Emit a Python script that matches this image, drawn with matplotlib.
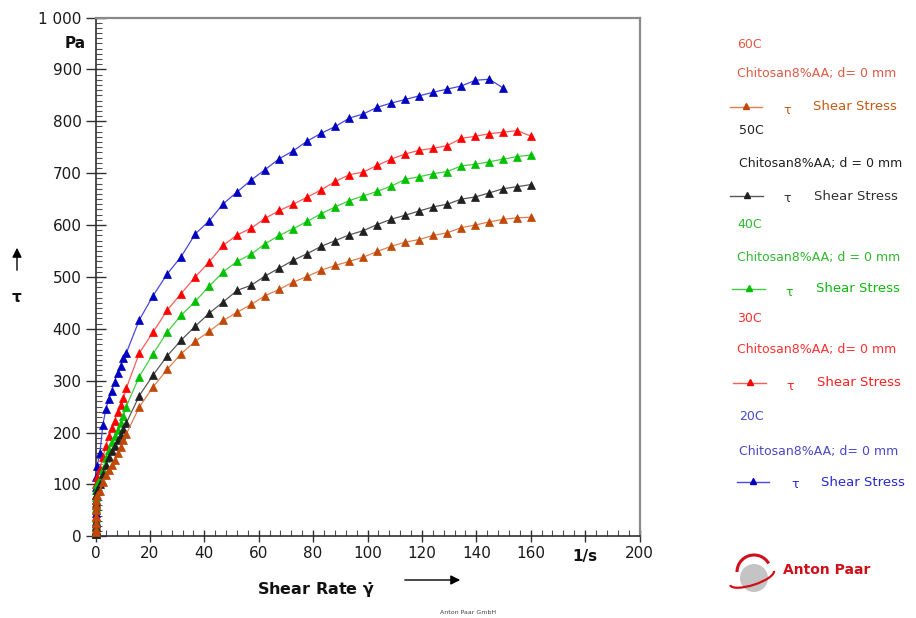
import numpy as np
import matplotlib.pyplot as plt
from matplotlib.patches import Circle, Arc
from matplotlib.ticker import MultipleLocator

plt.rcParams['font.family'] = ['DejaVu Sans']
plt.rcParams['mathtext.default'] = 'bf'

# shear rate steps (1/s): log start, fine linear part, coarse linear part
shear_rate = [0.01, 0.0178, 0.0316, 0.0562, 0.1, 0.178, 0.316, 0.562,
              1.6, 2.7, 3.8, 4.9, 5.9, 7.0, 8.1, 9.2, 10.2, 11.3,
              16.1, 21.2, 26.4, 31.5, 36.7, 41.8, 47.0, 52.1, 57.3, 62.4,
              67.6, 72.7, 77.9, 83.0, 88.2, 93.3, 98.4, 103.6, 108.7, 113.9,
              119.0, 124.2, 129.3, 134.5, 139.6, 144.8, 149.9, 155.1, 160.2]

# shear stress (Pa) per temperature
tau_20 = [5, 12, 25, 45, 70, 95, 115, 135,
          160, 215, 245, 265, 280, 298, 315, 328, 343, 353,
          417, 464, 506, 539, 583, 608, 641, 664, 687, 707,
          728, 743, 762, 777, 790, 806, 814, 827, 835, 842,
          849, 856, 862, 868, 879, 881, 864]
tau_30 = [5, 12, 22, 40, 60, 80, 100, 115,
          130, 152, 174, 194, 208, 222, 239, 253, 266, 285,
          353, 394, 436, 468, 500, 529, 561, 581, 594, 613,
          628, 640, 654, 668, 684, 697, 702, 715, 727, 737,
          744, 748, 753, 767, 771, 776, 779, 782, 771]
tau_40 = [5, 10, 20, 35, 55, 75, 90, 100,
          110, 130, 150, 167, 181, 193, 205, 218, 231, 250,
          308, 352, 394, 426, 453, 482, 510, 530, 544, 564,
          580, 593, 607, 622, 635, 647, 656, 665, 675, 688,
          693, 699, 703, 714, 717, 722, 727, 732, 735]
tau_50 = [5, 10, 18, 30, 50, 65, 80, 90,
          100, 120, 138, 152, 164, 175, 186, 196, 206, 218,
          271, 311, 348, 378, 405, 430, 452, 474, 484, 502,
          517, 532, 545, 559, 570, 581, 589, 601, 611, 619,
          627, 635, 640, 650, 654, 662, 670, 674, 678]
tau_60 = [8, 15, 25, 38, 50, 60, 70, 80,
          88, 105, 118, 128, 138, 148, 160, 173, 186, 197,
          249, 288, 322, 352, 376, 395, 416, 432, 447, 464,
          476, 490, 501, 513, 522, 530, 538, 549, 559, 567,
          572, 580, 585, 595, 600, 606, 611, 614, 615]

temps = ['20C', '30C', '40C', '50C', '60C']
samples = ['Chitosan8%AA; d= 0 mm', 'Chitosan8%AA; d= 0 mm',
           'Chitosan8%AA; d = 0 mm', 'Chitosan8%AA; d = 0 mm',
           'Chitosan8%AA; d= 0 mm']
series = [tau_20, tau_30, tau_40, tau_50, tau_60]
marker_colors = ['#0000C0', '#FF0000', '#00C000', '#202020', '#C04808']
line_colors = ['#4848E0', '#FF5A5A', '#40D040', '#585858', '#E08050']
title_colors = ['#4848C8', '#FF3030', '#30B830', '#202020', '#E05A45']
stress_colors = ['#2828D0', '#FF2020', '#10B810', '#303030', '#C85A14']

fig = plt.figure(figsize=(9.16, 6.18), dpi=100)
W, H = 916, 618
ax = fig.add_axes([95.5 / W, (H - 536.3) / H, 544 / W, 518.8 / H])

for i, tau in enumerate(series):
    ax.plot(shear_rate[:len(tau)], tau, '-', color=line_colors[i], lw=0.9,
            marker='^', ms=6, mfc=marker_colors[i], mec=marker_colors[i],
            mew=0.5, zorder=3 + i, clip_on=False)

ax.set_xlim(0, 200)
ax.set_ylim(0, 1000)
ax.set_xticks(range(0, 201, 20))
ax.set_xticklabels([str(v) for v in range(0, 161, 20)] + ['', '200'])
ax.set_yticks(range(0, 1001, 100))
ax.set_yticklabels([str(v) for v in range(0, 901, 100)] + ['1 000'])
ax.xaxis.set_minor_locator(MultipleLocator(4))
ax.yaxis.set_minor_locator(MultipleLocator(10))
ax.tick_params(axis='x', which='major', direction='inout', length=8, width=1,
               color='#303030', labelsize=11, labelcolor='#1a1a1a', pad=3)
ax.tick_params(axis='y', which='major', direction='inout', length=14, width=1,
               color='#303030', labelsize=11, labelcolor='#1a1a1a', pad=3)
ax.tick_params(which='minor', direction='in', length=4, width=0.8, color='#505050')
for side in ['left', 'bottom']:
    ax.spines[side].set_color('#303030')
    ax.spines[side].set_linewidth(1.2)
for side in ['top', 'right']:
    ax.spines[side].set_color('#8a8a8a')
    ax.spines[side].set_linewidth(1.6)

# overlay in pixel coordinates for labels, legend and logo
ov = fig.add_axes([0, 0, 1, 1], zorder=-1)
ov.set_xlim(0, W)
ov.set_ylim(H, 0)
ov.axis('off')

ov.text(86, 44, 'Pa', fontsize=11, fontweight='bold', ha='right', va='center', color='#111111')
ov.text(585, 556, '1/s', fontsize=11, fontweight='bold', ha='center', va='center', color='#111111')
ov.text(257, 590, r'Shear Rate $\dot{\gamma}$', fontsize=11.5, fontweight='bold',
        ha='left', va='center', color='#111111')
ov.annotate('', xy=(463, 580), xytext=(402, 580),
            arrowprops=dict(arrowstyle='-|>', color='black', lw=1, mutation_scale=14))
ov.annotate('', xy=(17, 245), xytext=(17, 273),
            arrowprops=dict(arrowstyle='-|>', color='black', lw=1, mutation_scale=14))
ov.text(17, 298, 'τ', fontsize=11, fontweight='bold', ha='center', va='center', color='#111111')

# legend blocks, top to bottom: 60C ... 20C
rows = [(44, 74, 107), (131, 163, 196), (224, 257, 289), (319, 350, 383), (417, 451, 482)]
xs = [(737, 730, 762, 787, 813), (739, 730, 763, 787, 814), (737, 732, 765, 789, 816),
      (737, 733, 766, 790, 817), (739, 737, 769, 795, 821)]
for k, idx in enumerate([4, 3, 2, 1, 0]):
    y_t, y_s, y_l = rows[k]
    x_t, x0, x1, x_tau, x_ss = xs[k]
    ov.text(x_t, y_t, temps[idx], fontsize=9, color=title_colors[idx], va='center')
    ov.text(x_t, y_s, samples[idx], fontsize=9, color=title_colors[idx], va='center')
    ov.plot([x0, x1], [y_l, y_l], color=line_colors[idx], lw=1)
    ov.plot([(x0 + x1) / 2], [y_l - 1], marker='^', ms=5, color=marker_colors[idx])
    ov.text(x_tau, y_l + 3, 'τ', fontsize=9, color=stress_colors[idx], ha='center', va='center')
    ov.text(x_ss, y_l, 'Shear Stress', fontsize=9.5, color=stress_colors[idx], va='center')

# company logo
ov.add_patch(Circle((754, 578), 14, facecolor='#C4C4C4', edgecolor='none'))
ov.add_patch(Arc((754, 572), 34, 34, theta1=180, theta2=330, color='#D01018', lw=2.2))
ov.add_patch(Arc((752, 578), 46, 14, angle=-18, theta1=0, theta2=180, color='#D01018', lw=1.6))
ov.text(783, 570, 'Anton Paar', fontsize=10, fontweight='bold', color='#D01018', va='center')
ov.text(468, 612, 'Anton Paar GmbH', fontsize=4.5, color='#404040', ha='center', va='center')

fig.savefig('out.png', dpi=100)
